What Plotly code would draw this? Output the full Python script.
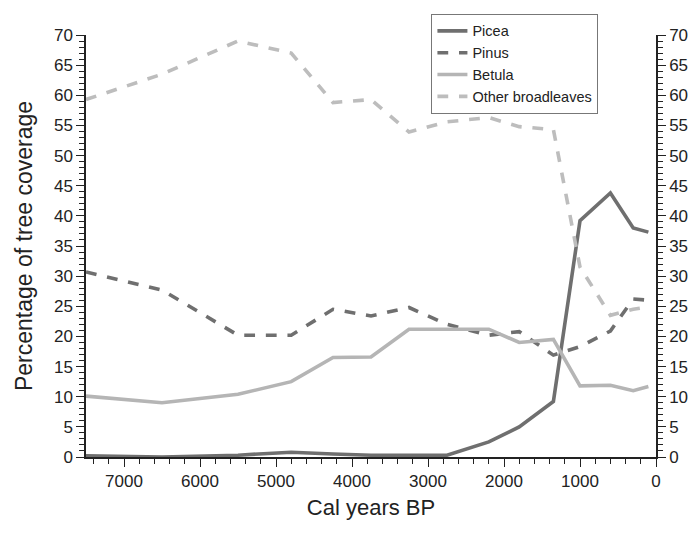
import plotly.graph_objects as go

years = [7500, 6500, 5500, 4800, 4250, 3750, 3250, 2750, 2200, 1800, 1350, 1000, 600, 300, 100]
picea = [0.2, 0.0, 0.3, 0.8, 0.5, 0.3, 0.3, 0.3, 2.5, 5.0, 9.2, 39.2, 43.8, 38.0, 37.3]
pinus = [30.7, 27.7, 20.2, 20.2, 24.5, 23.4, 24.8, 22.0, 20.2, 20.8, 16.9, 18.3, 20.9, 26.2, 26.0]
betula = [10.1, 9.0, 10.4, 12.5, 16.5, 16.6, 21.2, 21.2, 21.2, 19.0, 19.5, 11.8, 11.9, 11.0, 11.7]
broadleaves = [59.3, 63.5, 69.0, 67.0, 58.8, 59.3, 53.9, 55.6, 56.3, 54.8, 54.3, 31.5, 23.5, 24.5, 24.9]

series_names = ["Picea", "Pinus", "Betula", "Other broadleaves"]
series_vals = [picea, pinus, betula, broadleaves]
colors = ["#6f6f6f", "#6f6f6f", "#b5b5b5", "#bdbdbd"]
dashes = ["solid", "dash", "solid", "dash"]

fig = go.Figure()
for name, vals, c, d in zip(series_names, series_vals, colors, dashes):
    fig.add_trace(go.Scatter(x=years, y=vals, mode="lines", name=name,
                             line=dict(color=c, width=3.6, dash=d)))
# invisible trace to anchor the right axis
fig.add_trace(go.Scatter(x=[years[0]], y=[0], yaxis="y2", mode="lines",
                         showlegend=False, hoverinfo="skip", line=dict(width=0)))

font = "Liberation Sans, Arial, sans-serif"
axis_common = dict(showgrid=False, zeroline=False, showline=True, linecolor="#222",
                   linewidth=1.5, ticks="outside", tickcolor="#222", ticklen=8,
                   tickwidth=1.2, tickfont=dict(size=17, color="#222", family=font))
minor_y = dict(dtick=1, ticks="outside", ticklen=5, tickcolor="#222", tickwidth=1)

fig.update_layout(
    width=700, height=533,
    margin=dict(l=86, r=40, t=35, b=76),
    plot_bgcolor="white", paper_bgcolor="white",
    font=dict(family=font, color="#222"),
    xaxis=dict(range=[7500, 0], dtick=1000, tick0=0,
               title=dict(text="Cal years BP", font=dict(size=22, family=font, color="#222"), standoff=9),
               minor=dict(dtick=200, ticks="outside", ticklen=5, tickcolor="#222", tickwidth=1),
               **axis_common),
    yaxis=dict(range=[0, 70], dtick=5, tick0=0,
               title=dict(text="Percentage of tree coverage", font=dict(size=23, family=font, color="#222"), standoff=15),
               minor=minor_y,
               **axis_common),
    yaxis2=dict(range=[0, 70], dtick=5, tick0=0, overlaying="y", side="right",
                minor=minor_y,
                **axis_common),
    legend=dict(x=0.606, y=1.05, xanchor="left", yanchor="top",
                bordercolor="#777", borderwidth=1, bgcolor="white",
                font=dict(size=14.5, family=font, color="#222"),
                tracegroupgap=0, itemwidth=30,
                entrywidth=158, entrywidthmode="pixels"),
    showlegend=True,
)

fig.write_html("out.html")
